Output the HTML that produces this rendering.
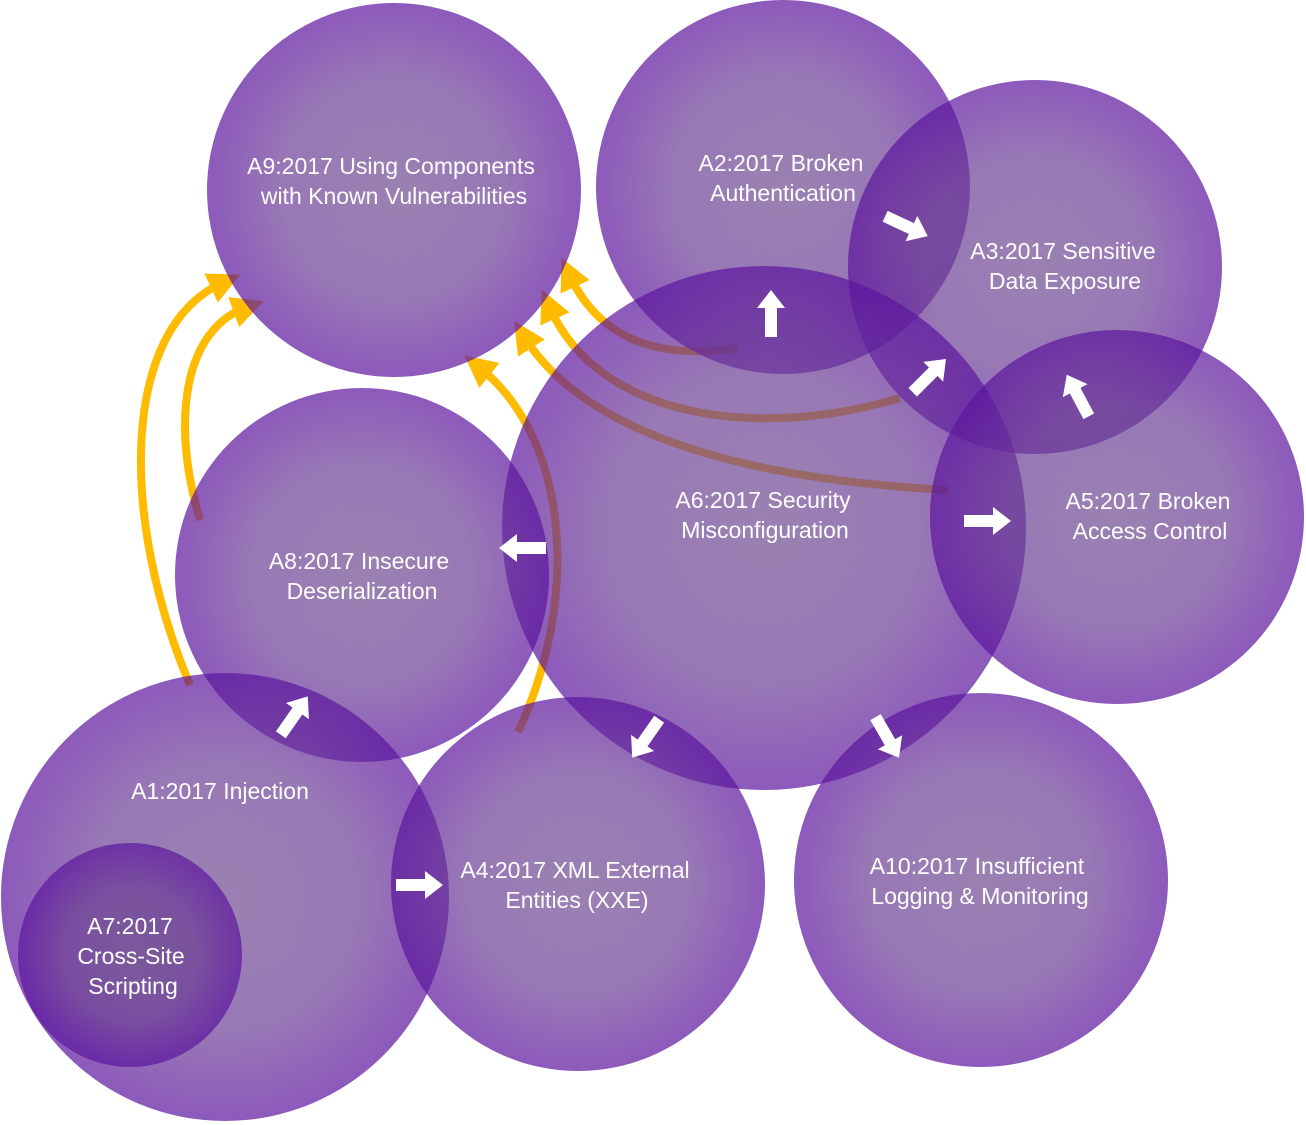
<!DOCTYPE html>
<html><head><meta charset="utf-8"><style>
html,body{margin:0;padding:0;background:#fff;}
svg{display:block;}
text{font-family:"Liberation Sans",sans-serif;font-size:23px;fill:#fff;text-anchor:middle;}
</style></head><body>
<svg width="1306" height="1125" viewBox="0 0 1306 1125" xmlns="http://www.w3.org/2000/svg">
<defs>
<radialGradient id="g" cx="50%" cy="50%" r="50%">
<stop offset="0" stop-color="rgb(111,76,145)"/>
<stop offset="0.6" stop-color="rgb(108,62,150)"/>
<stop offset="1" stop-color="rgb(92,20,158)"/>
</radialGradient>
<marker id="m" markerWidth="4" markerHeight="4" refX="1.5" refY="2" orient="auto" markerUnits="strokeWidth">
<path d="M0,0 L4,2 L0,4 Z" fill="#ffbb00"/>
</marker>
<polygon id="wa" points="-23,-6 6,-6 6,-14 24,0 6,14 6,6 -23,6" fill="#fff"/>
</defs>
<g fill="none" stroke="#ffbb00" stroke-width="8" marker-end="url(#m)">
<path d="M190,685 C120,520 120,330 222,283"/>
<path d="M200,520 C170,420 185,330 245,308"/>
<path d="M518,732 C580,600 570,440 480,368"/>
<path d="M948,490 C760,480 590,440 525,338"/>
<path d="M900,398 C760,440 600,420 550,308"/>
<path d="M738,348 C660,360 600,340 570,276"/>
</g>
<g fill="url(#g)" fill-opacity="0.7">
<circle cx="394" cy="190" r="187"/>
<circle cx="783" cy="187" r="187"/>
<circle cx="1035" cy="267" r="187"/>
<circle cx="764" cy="528" r="262"/>
<circle cx="1117" cy="517" r="187"/>
<circle cx="362" cy="575" r="187"/>
<circle cx="225" cy="897" r="224"/>
<circle cx="130" cy="955" r="112"/>
<circle cx="578" cy="884" r="187"/>
<circle cx="981" cy="880" r="187"/>
</g>
<use href="#wa" transform="translate(906,226) rotate(25)"/>
<use href="#wa" transform="translate(771,314) rotate(-90)"/>
<use href="#wa" transform="translate(929,376) rotate(-45)"/>
<use href="#wa" transform="translate(1078,396) rotate(-118)"/>
<use href="#wa" transform="translate(987,521) rotate(0)"/>
<use href="#wa" transform="translate(523,548) rotate(180)"/>
<use href="#wa" transform="translate(646,738) rotate(125)"/>
<use href="#wa" transform="translate(887,737) rotate(60)"/>
<use href="#wa" transform="translate(294,716) rotate(-55)"/>
<use href="#wa" transform="translate(419,885) rotate(0)"/>
<text x="391" y="174">A9:2017 Using Components</text>
<text x="394" y="204">with Known Vulnerabilities</text>
<text x="781" y="171">A2:2017 Broken</text>
<text x="783" y="201">Authentication</text>
<text x="1063" y="259">A3:2017 Sensitive</text>
<text x="1065" y="289">Data Exposure</text>
<text x="763" y="508">A6:2017 Security</text>
<text x="765" y="538">Misconfiguration</text>
<text x="1148" y="509">A5:2017 Broken</text>
<text x="1150" y="539">Access Control</text>
<text x="359" y="569">A8:2017 Insecure</text>
<text x="362" y="599">Deserialization</text>
<text x="220" y="799">A1:2017 Injection</text>
<text x="130" y="934">A7:2017</text>
<text x="131" y="964">Cross-Site</text>
<text x="133" y="994">Scripting</text>
<text x="575" y="878">A4:2017 XML External</text>
<text x="577" y="908">Entities (XXE)</text>
<text x="977" y="874">A10:2017 Insufficient</text>
<text x="980" y="904">Logging &amp; Monitoring</text>
</svg>
</body></html>
